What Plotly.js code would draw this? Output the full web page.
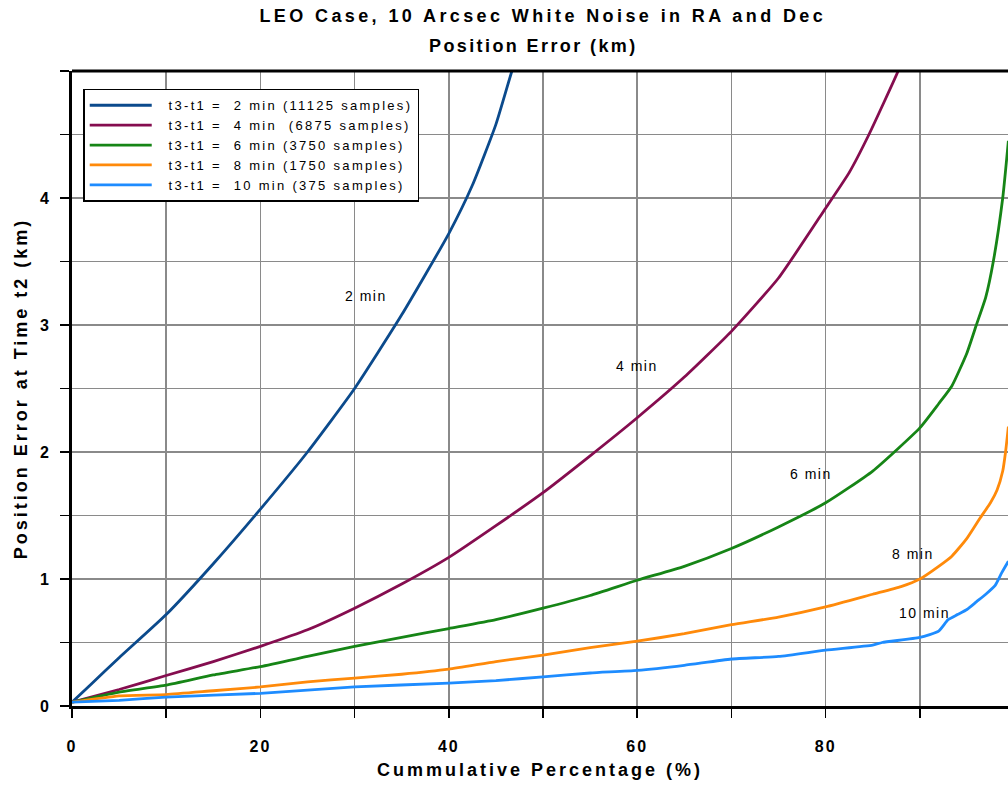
<!DOCTYPE html>
<html>
<head>
<meta charset="utf-8">
<script src="https://cdn.plot.ly/plotly-3.0.1.min.js"></script>
<style>
  body { margin: 0; padding: 0; background: #fff; }
  #chart { width: 1008px; height: 793px; }
  .gtitle { letter-spacing: 3.4px; }
  .xtitle, .ytitle { letter-spacing: 3px; }
  .xtick text { letter-spacing: 2px; }
  .legendtext { letter-spacing: 2.3px; }
  .annotation-text { letter-spacing: 1.5px; }
</style>
</head>
<body>
<div id="chart"></div>
<script>
// ---- data ----
const seriesNames = [
  "\u00a0\u00a0t3-t1 =\u00a0 2 min (11125 samples)",
  "\u00a0\u00a0t3-t1 =\u00a0 4 min\u00a0 (6875 samples)",
  "\u00a0\u00a0t3-t1 =\u00a0 6 min (3750 samples)",
  "\u00a0\u00a0t3-t1 =\u00a0 8 min (1750 samples)",
  "\u00a0\u00a0t3-t1 =\u00a0 10 min (375 samples)"
];
const curveLabels = ["2 min", "4 min", "6 min", "8 min", "10 min"];

const x2 = [0, 2, 5, 10, 15, 20, 25, 30, 35, 40, 42.5, 45, 46.7, 47.3];
const y2 = [0.03, 0.17, 0.38, 0.72, 1.12, 1.55, 2.0, 2.5, 3.08, 3.72, 4.1, 4.58, 5.0, 5.12];

const x4 = [0, 5, 10, 15, 20, 25, 30, 35, 40, 45, 50, 55, 60, 65, 70, 75, 80, 82.5, 84.6, 87.7, 88.2];
const y4 = [0.03, 0.13, 0.24, 0.35, 0.47, 0.60, 0.77, 0.96, 1.17, 1.42, 1.68, 1.97, 2.27, 2.59, 2.95, 3.37, 3.92, 4.2, 4.5, 5.0, 5.1];

const x6 = [0, 5, 10, 15, 20, 25, 30, 35, 40, 45, 50, 55, 60, 65, 70, 75, 80, 85, 90, 92, 93.4, 95, 96, 97, 97.8, 98.8, 99.4];
const y6 = [0.03, 0.11, 0.165, 0.245, 0.31, 0.39, 0.47, 0.54, 0.61, 0.68, 0.77, 0.87, 0.99, 1.10, 1.24, 1.41, 1.60, 1.85, 2.19, 2.38, 2.52, 2.78, 3.0, 3.22, 3.5, 4.0, 4.45];

const x8 = [0, 5, 10, 15, 20, 25, 30, 35, 40, 45, 50, 55, 60, 65, 70, 75, 80, 85, 88, 90, 92, 93.4, 95, 96.4, 97.5, 98.2, 98.8, 99.1, 99.4];
const y8 = [0.03, 0.08, 0.09, 0.12, 0.15, 0.19, 0.22, 0.25, 0.29, 0.35, 0.40, 0.46, 0.51, 0.57, 0.64, 0.70, 0.78, 0.88, 0.94, 1.0, 1.1, 1.18, 1.32, 1.48, 1.6, 1.7, 1.85, 2.0, 2.2];

const x10 = [0, 5, 10, 20, 30, 40, 45, 50, 55, 60, 65, 70, 75, 80, 85, 86, 90, 92, 93, 94, 95, 96, 97, 98, 98.7, 99.4];
const y10 = [0.03, 0.045, 0.07, 0.10, 0.15, 0.18, 0.20, 0.23, 0.26, 0.28, 0.32, 0.37, 0.39, 0.44, 0.48, 0.50, 0.54, 0.59, 0.68, 0.72, 0.76, 0.82, 0.88, 0.95, 1.05, 1.14];

const labelX = [31.2, 60.0, 78.5, 89.3, 90.5];
const labelY = [3.23, 2.68, 1.83, 1.20, 0.73];

const yTickVals = [0, 1, 2, 3, 4];
const xTickVals = [0, 20, 40, 60, 80];

const colors = ["#0b4a8c", "#850d4f", "#168516", "#ff8a0a", "#1e8cff"];

const xs = [x2, x4, x6, x8, x10];
const ys = [y2, y4, y6, y8, y10];

const FONT = '"Liberation Sans", Arial, sans-serif';

const traces = xs.map((xv, i) => ({
  type: 'scatter',
  mode: 'lines',
  x: xv,
  y: ys[i],
  name: seriesNames[i],
  line: { color: colors[i], width: 2.8, shape: 'spline', smoothing: 0.5 },
  hoverinfo: 'skip'
}));

const annotations = curveLabels.map((t, i) => ({
  x: labelX[i], y: labelY[i], xref: 'x', yref: 'y',
  text: t, showarrow: false,
  font: { family: FONT, size: 14, color: '#000' }
}));
annotations.push({
  xref: 'paper', yref: 'paper', x: 0.493, y: 1.039,
  xanchor: 'center', yanchor: 'middle',
  text: '<span style="letter-spacing:2.4px"><b>Position Error (km)</b></span>', showarrow: false,
  font: { family: FONT, size: 18, color: '#000' }
});

const gridColor = '#8a8a8a';

const layout = {
  width: 1008, height: 793,
  margin: { l: 72, r: 0, t: 71, b: 87, pad: 0 },
  paper_bgcolor: '#fff', plot_bgcolor: '#fff',
  showlegend: true,
  title: {
    text: '<b>LEO Case, 10 Arcsec White Noise in RA and Dec</b>',
    font: { family: FONT, size: 18, color: '#000' },
    xref: 'paper', x: 0.503, xanchor: 'center',
    yref: 'container', y: 1 - 16 / 793, yanchor: 'middle'
  },
  xaxis: {
    range: [0, 99.36], autorange: false,
    tickmode: 'array', tickvals: xTickVals,
    ticks: 'outside', ticklen: 9, tickwidth: 1.5, tickcolor: '#000',
    showgrid: true, gridcolor: gridColor, gridwidth: 1.6,
    minor: { dtick: 10, tick0: 0, showgrid: true, gridcolor: gridColor, gridwidth: 1.6, ticks: 'outside', ticklen: 9, tickwidth: 1.5, tickcolor: '#000' },
    zeroline: false,
    showline: true, linecolor: '#000', linewidth: 3,
    tickfont: { family: FONT, size: 16, color: '#000', weight: 'bold' },
    ticklabelstandoff: 15,
    title: { text: '<b>Cummulative Percentage (%)</b>', font: { family: FONT, size: 18, color: '#000' }, standoff: 10 }
  },
  yaxis: {
    range: [0, 5], autorange: false,
    tickmode: 'array', tickvals: yTickVals,
    ticks: 'outside', ticklen: 9, tickwidth: 1.5, tickcolor: '#000',
    showgrid: true, gridcolor: gridColor, gridwidth: 1.6,
    minor: { dtick: 0.5, tick0: 0, showgrid: true, gridcolor: gridColor, gridwidth: 1.6, ticks: 'outside', ticklen: 9, tickwidth: 1.5, tickcolor: '#000' },
    zeroline: false,
    showline: true, linecolor: '#000', linewidth: 3,
    tickfont: { family: FONT, size: 16, color: '#000', weight: 'bold' },
    ticklabelstandoff: 8,
    title: { text: '<b>Position Error at Time t2 (km)</b>', font: { family: FONT, size: 18, color: '#000' }, standoff: 8 }
  },
  legend: {
    x: 0.012, y: 0.972, xanchor: 'left', yanchor: 'top',
    bgcolor: '#fff', bordercolor: '#000', borderwidth: 1.5,
    font: { family: FONT, size: 13, color: '#000' },
    itemwidth: 62, tracegroupgap: 0
  },
  shapes: [{
    type: 'line', xref: 'paper', yref: 'paper', x0: 0, x1: 1, y0: 1, y1: 1,
    line: { color: '#000', width: 3 }
  }],
  annotations: annotations,
  hovermode: false
};

Plotly.newPlot('chart', traces, layout, { displayModeBar: false, staticPlot: true });
</script>
</body>
</html>
